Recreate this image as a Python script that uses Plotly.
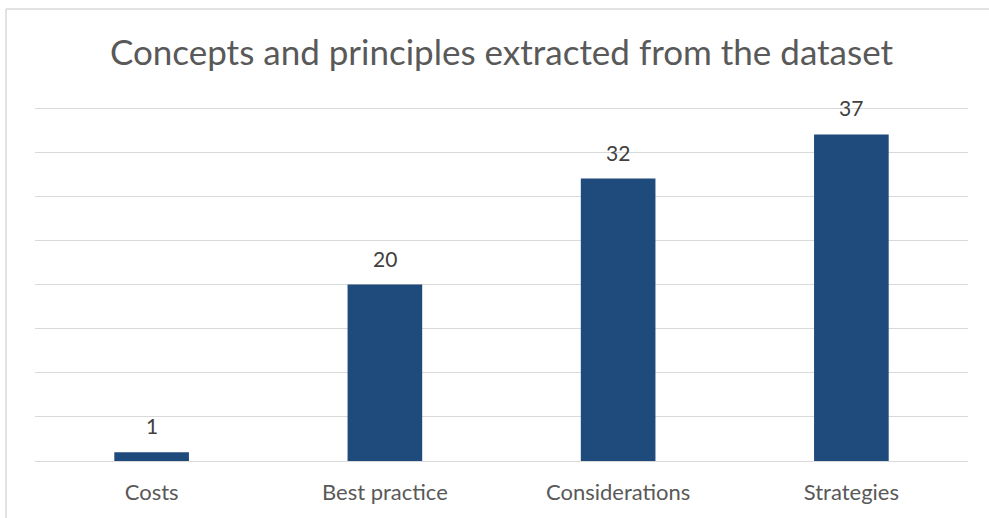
import plotly.graph_objects as go

categories = ["Costs", "Best practice", "Considerations", "Strategies"]
values = [1, 20, 32, 37]
title_text = "Concepts and principles extracted from the dataset"

W, H = 989, 518
ml, mr, mt, mb = 35, 21, 105, 57
pw = W - ml - mr
ph = H - mt - mb
ymax = 40 * ph / 353.0

fig = go.Figure()
fig.add_trace(go.Bar(
    x=categories, y=values,
    marker=dict(color="#1F4A7C", line=dict(width=0)),
    hoverinfo="skip",
))
for c, v in zip(categories, values):
    fig.add_annotation(x=c, y=v, text=str(v), showarrow=False,
                       yanchor="bottom", yshift=12,
                       font=dict(family="Lato", size=21, color="#404040"))

# outer chart border (left and top visible, rest cropped)
fig.add_shape(type="line", xref="paper", yref="paper",
              x0=(6 - ml) / pw, x1=(6 - ml) / pw,
              y0=-(mb + 20) / ph, y1=1 + (mt - 9) / ph,
              line=dict(color="#D9D9D9", width=1.5))
fig.add_shape(type="line", xref="paper", yref="paper",
              x0=(6 - ml) / pw, x1=1 + (mr + 20) / pw,
              y0=1 + (mt - 9) / ph, y1=1 + (mt - 9) / ph,
              line=dict(color="#D9D9D9", width=1.5))

fig.update_layout(
    width=W, height=H,
    margin=dict(l=ml, r=mr, t=mt, b=mb),
    paper_bgcolor="white", plot_bgcolor="white",
    bargap=0.68,
    showlegend=False,
    title=dict(text=title_text, x=(ml + pw / 2) / W, xanchor="center",
               y=1 - 53 / H, yanchor="middle",
               font=dict(family="Lato", size=35, color="#595959")),
    xaxis=dict(showgrid=False, showline=False, ticks="", ticklabelstandoff=16,
               tickfont=dict(family="Lato", size=22, color="#595959")),
    yaxis=dict(range=[0, ymax], tick0=0, dtick=5, showticklabels=False, showgrid=True,
               gridcolor="#D9D9D9", gridwidth=1.3, zeroline=True,
               zerolinecolor="#D9D9D9", zerolinewidth=1.3, ticks=""),
)
fig.write_html("out.html", config={"displayModeBar": False},
               post_script="document.body.style.margin='0';")
